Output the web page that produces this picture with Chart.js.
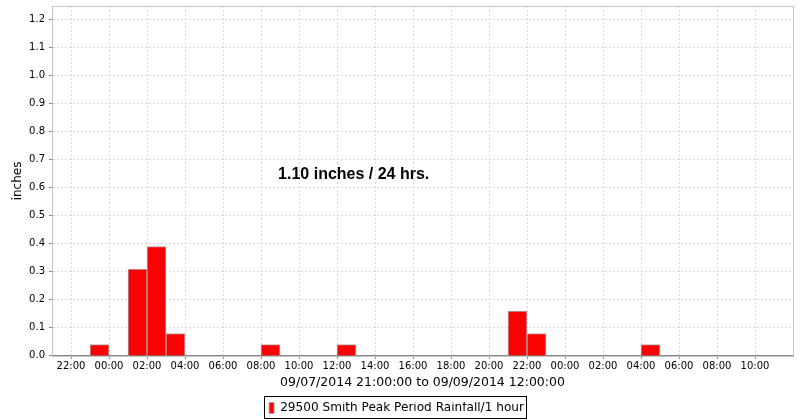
<!DOCTYPE html>
<html>
<head>
<meta charset="utf-8">
<script src="https://cdn.jsdelivr.net/npm/chart.js@4"></script>
<style>
  html, body { margin: 0; padding: 0; background: #fff; }
  #wrap { width: 800px; height: 420px; }
</style>
</head>
<body>
<div id="wrap"><canvas id="rainChart"></canvas></div>
<script>
// period start (hourly bars), from 09/07/2014 21:00 to 09/09/2014 12:00
var startTime = '2014-09-07T21:00:00';
var endTime = '2014-09-09T12:00:00';
var periods = ['2014-09-07T23:00:00', '2014-09-08T01:00:00', '2014-09-08T02:00:00', '2014-09-08T03:00:00',
               '2014-09-08T08:00:00', '2014-09-08T12:00:00', '2014-09-08T21:00:00', '2014-09-08T22:00:00',
               '2014-09-09T04:00:00'];
var rainfall = [0.04, 0.31, 0.39, 0.08, 0.04, 0.04, 0.16, 0.08, 0.04];
var tickLabels = ['22:00', '00:00', '02:00', '04:00', '06:00', '08:00', '10:00', '12:00', '14:00', '16:00',
                  '18:00', '20:00', '22:00', '00:00', '02:00', '04:00', '06:00', '08:00', '10:00'];
var seriesName = '29500 Smith Peak Period Rainfall/1 hour';
var rangeTitle = '09/07/2014 21:00:00 to 09/09/2014 12:00:00';
var totalNote = '1.10 inches / 24 hrs.';

var HOUR = 3600 * 1000;
function hoursFromStart(t) {
    return (new Date(t) - new Date(startTime)) / HOUR;
}
var totalHours = hoursFromStart(endTime);

var barData = periods.map(function (p, i) {
    return { x: hoursFromStart(p) + 0.5, y: rainfall[i] }; // bar covers the whole hour
});

Chart.defaults.font.family = "'DejaVu Sans', sans-serif";
Chart.defaults.font.size = 10;
Chart.defaults.color = '#000';

var LEGEND_SHIFT = 4; // push the legend a little lower

// light frame around the plot, the note, and a box round the legend
var framePlugin = {
    id: 'frame',
    beforeDraw: function (chart) {
        var lg = chart.legend;
        if (lg && lg.legendHitBoxes) {
            lg.top += LEGEND_SHIFT;
            lg.bottom += LEGEND_SHIFT;
            lg.legendHitBoxes.forEach(function (hb) { hb.top += LEGEND_SHIFT; });
        }
    },
    beforeDatasetsDraw: function (chart) {
        var a = chart.chartArea, ctx = chart.ctx;
        ctx.save();
        ctx.strokeStyle = '#c4c4c4';
        ctx.lineWidth = 1;
        ctx.strokeRect(Math.round(a.left) + 0.5, Math.round(a.top) + 0.5,
                       Math.round(a.right - a.left), Math.round(a.bottom - a.top));
        ctx.restore();
    },
    afterDraw: function (chart) {
        var ctx = chart.ctx;
        var xs = chart.scales.x, ys = chart.scales.y;
        ctx.save();
        ctx.font = "bold 16px 'Liberation Sans', Arial, sans-serif";
        ctx.fillStyle = '#000';
        ctx.textBaseline = 'middle';
        ctx.fillText(totalNote, xs.getPixelForValue(11.9), ys.getPixelForValue(0.645));
        var lg = chart.legend;
        if (lg && lg.legendHitBoxes && lg.legendHitBoxes.length) {
            var hb = lg.legendHitBoxes[0];
            var midY = Math.round(hb.top + hb.height / 2);
            ctx.strokeStyle = '#000';
            ctx.lineWidth = 1;
            ctx.strokeRect(Math.round(hb.left) - 4.5, midY - 11.5,
                           Math.round(hb.width) + 7, 22);
        }
        ctx.restore();
        // undo the shift so a redraw does not move it twice
        if (lg && lg.legendHitBoxes) {
            lg.top -= LEGEND_SHIFT;
            lg.bottom -= LEGEND_SHIFT;
            lg.legendHitBoxes.forEach(function (hb) { hb.top -= LEGEND_SHIFT; });
        }
    }
};

const config = {
    type: 'bar',
    data: {
        datasets: [{
            label: seriesName,
            data: barData,
            backgroundColor: '#ff0000',
            borderColor: '#aaaaaa',
            borderWidth: 1,
            barPercentage: 1.0,
            categoryPercentage: 1.0
        }]
    },
    options: {
        responsive: true,
        maintainAspectRatio: false,
        animation: false,
        layout: { padding: { top: 6, right: 7, left: 0, bottom: 0 } },
        plugins: {
            legend: {
                position: 'bottom',
                labels: {
                    boxWidth: 5,
                    boxHeight: 11,
                    padding: 0,
                    color: '#000',
                    font: { size: 12.1 }
                }
            },
            tooltip: { enabled: false }
        },
        scales: {
            x: {
                type: 'linear',
                offset: false,
                min: 0,
                max: totalHours,
                afterBuildTicks: function (scale) {
                    scale.ticks = tickLabels.map(function (lab, i) {
                        return { value: 1 + i * 2 };
                    });
                },
                afterFit: function (scale) { scale.height = 42; },
                ticks: {
                    autoSkip: false,
                    maxRotation: 0,
                    padding: 2,
                    color: '#000',
                    font: { size: 10 },
                    callback: function (v) {
                        return tickLabels[Math.round((v - 1) / 2)];
                    }
                },
                grid: {
                    offset: false,
                    color: '#d8d8d8',
                    tickLength: 3,
                    tickColor: '#888',
                    tickBorderDash: []
                },
                border: { color: '#888', width: 1, dash: [2, 2] },
                title: {
                    display: true,
                    text: rangeTitle,
                    color: '#000',
                    font: { size: 12.5 },
                    padding: { top: 0, bottom: 8 }
                }
            },
            y: {
                min: 0,
                max: 1.248,
                afterBuildTicks: function (scale) {
                    scale.ticks = scale.ticks.filter(function (t) { return t.value <= 1.2001; });
                },
                afterFit: function (scale) {
                    scale.width = 52;
                    scale.paddingTop = 0;
                    scale.paddingBottom = 0;
                },
                ticks: {
                    stepSize: 0.1,
                    padding: 4,
                    color: '#000',
                    font: { size: 10 },
                    callback: function (v) { return Number(v).toFixed(1); }
                },
                grid: {
                    color: '#d8d8d8',
                    tickLength: 3,
                    tickColor: '#888',
                    tickBorderDash: []
                },
                border: { color: '#888', width: 1, dash: [2, 2] },
                title: {
                    display: true,
                    text: 'inches',
                    color: '#000',
                    font: { size: 12 },
                    padding: { top: 11, bottom: 0 }
                }
            }
        }
    },
    plugins: [framePlugin]
};

const rainChart = new Chart(document.getElementById('rainChart'), config);
</script>
</body>
</html>
